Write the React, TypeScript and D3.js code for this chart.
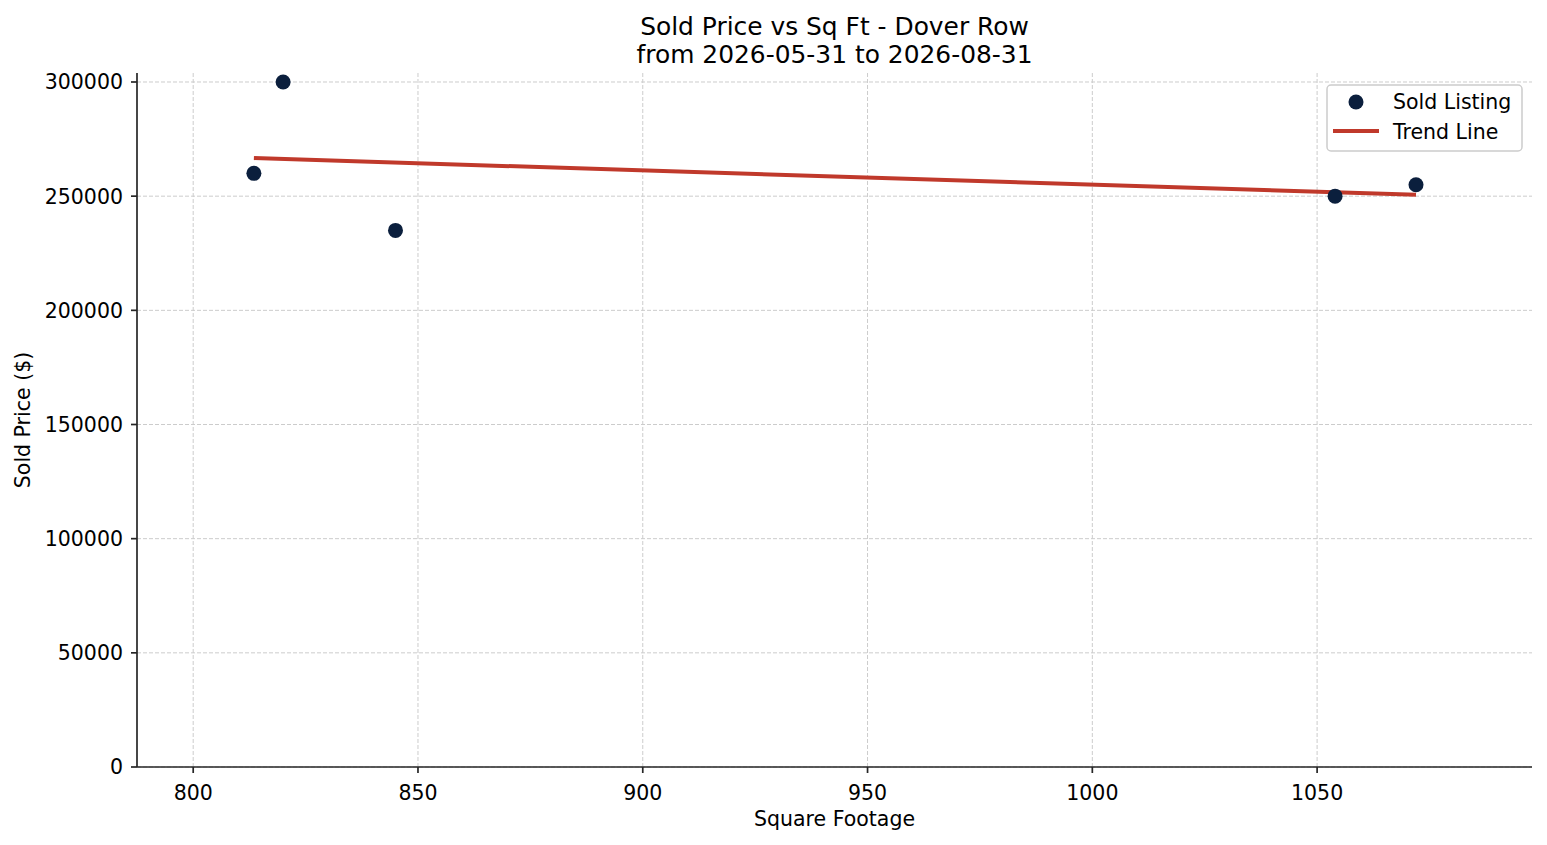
import * as d3 from 'd3';

// sold listings: square footage vs sold price
const sqft = [813.5, 820, 845, 1054, 1072];
const soldPrice = [260000, 300000, 235000, 250000, 255000];
const xTicks = [800, 850, 900, 950, 1000, 1050];
const yTicks = [0, 50000, 100000, 150000, 200000, 250000, 300000];
const titleLines = ['Sold Price vs Sq Ft - Dover Row', 'from 2026-05-31 to 2026-08-31'];

const W = 1547;
const H = 845;
const margin = { top: 73, right: 15, bottom: 78, left: 137 };
const font = '"DejaVu Sans", sans-serif';
const pointColor = '#0b1f3d';
const trendColor = '#c0392b';

export default function App() {
  const innerW = W - margin.left - margin.right;
  const innerH = H - margin.top - margin.bottom;

  const x = d3.scaleLinear().domain([787.5, 1097.8]).range([0, innerW]);
  const y = d3.scaleLinear().domain([0, 303940]).range([innerH, 0]);

  // least squares fit over the listings
  const mx = d3.mean(sqft) ?? 0;
  const my = d3.mean(soldPrice) ?? 0;
  const sxy = d3.sum(sqft, (v, i) => (v - mx) * (soldPrice[i] - my));
  const sxx = d3.sum(sqft, (v) => (v - mx) ** 2);
  const slope = sxy / sxx;
  const [xMin, xMax] = d3.extent(sqft) as [number, number];
  const trend: [number, number][] = [
    [xMin, my + slope * (xMin - mx)],
    [xMax, my + slope * (xMax - mx)],
  ];
  const line = d3
    .line<[number, number]>()
    .x((d) => x(d[0]))
    .y((d) => y(d[1]));

  return (
    <svg
      width={W}
      height={H}
      style={{ position: 'absolute', left: 0, top: 0, background: '#fff' }}
      fontFamily={font}
    >
      {titleLines.map((t, i) => (
        <text key={t} x={margin.left + innerW / 2} y={35 + i * 28} textAnchor="middle" fontSize={24.9} fill="#000">
          {t}
        </text>
      ))}
      <g transform={`translate(${margin.left},${margin.top})`}>
        {/* grid */}
        {xTicks.map((t) => (
          <line key={`gx${t}`} x1={x(t)} x2={x(t)} y1={0} y2={innerH} stroke="#cccccc" strokeWidth={1} strokeDasharray="4,2" />
        ))}
        {yTicks.map((t) => (
          <line key={`gy${t}`} x1={0} x2={innerW} y1={y(t)} y2={y(t)} stroke="#cccccc" strokeWidth={1} strokeDasharray="4,2" />
        ))}

        {/* trend line */}
        <path d={line(trend) ?? ''} fill="none" stroke={trendColor} strokeWidth={4} />

        {/* points */}
        {sqft.map((s, i) => (
          <circle key={i} cx={x(s)} cy={y(soldPrice[i])} r={7.5} fill={pointColor} />
        ))}

        {/* axes */}
        <line x1={0} x2={0} y1={0} y2={innerH} stroke="#262626" strokeWidth={1.7} />
        <line x1={0} x2={innerW} y1={innerH} y2={innerH} stroke="#262626" strokeWidth={1.7} />
        {xTicks.map((t) => (
          <g key={`tx${t}`} transform={`translate(${x(t)},${innerH})`}>
            <line y1={0} y2={6} stroke="#262626" strokeWidth={1.7} />
            <text y={33} textAnchor="middle" fontSize={20.5} fill="#000">
              {t}
            </text>
          </g>
        ))}
        {yTicks.map((t) => (
          <g key={`ty${t}`} transform={`translate(0,${y(t)})`}>
            <line x1={0} x2={-6} stroke="#262626" strokeWidth={1.7} />
            <text x={-14} dy="0.36em" textAnchor="end" fontSize={20.5} fill="#000">
              {t}
            </text>
          </g>
        ))}

        <text x={innerW / 2} y={innerH + 59} textAnchor="middle" fontSize={20.5} fill="#000">
          Square Footage
        </text>
        <text transform={`translate(-107,${innerH / 2}) rotate(-90)`} textAnchor="middle" fontSize={20.5} fill="#000">
          Sold Price ($)
        </text>

        {/* legend */}
        <g transform={`translate(${innerW - 205},12)`}>
          <rect x={0} y={0} width={195} height={66} rx={4} fill="#fff" fillOpacity={0.8} stroke="#cccccc" strokeWidth={1.5} />
          <circle cx={29} cy={17} r={7.5} fill={pointColor} />
          <line x1={6} x2={52} y1={46} y2={46} stroke={trendColor} strokeWidth={4} />
          <text x={66} y={24} fontSize={20.5} fill="#000">
            Sold Listing
          </text>
          <text x={66} y={54} fontSize={20.5} fill="#000">
            Trend Line
          </text>
        </g>
      </g>
    </svg>
  );
}
